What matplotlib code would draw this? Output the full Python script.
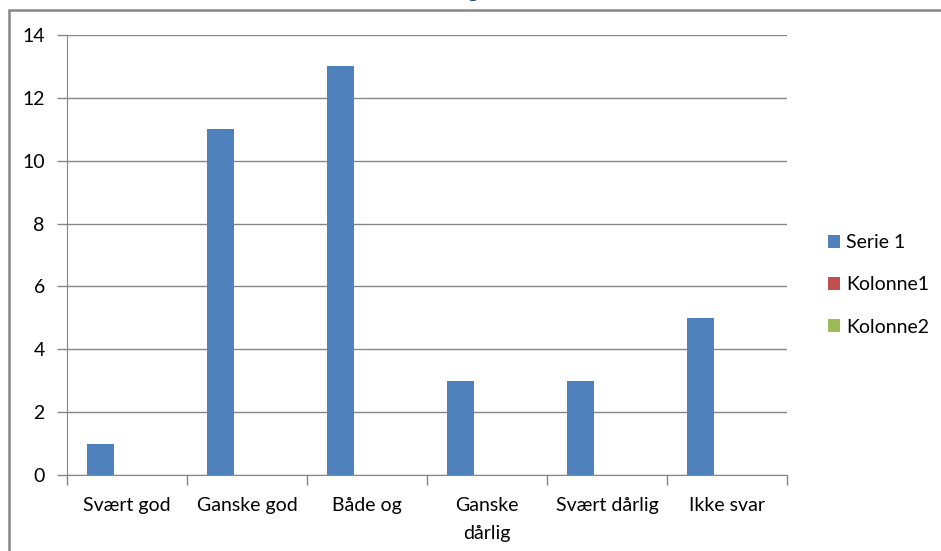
import numpy as np
import matplotlib
matplotlib.use("Agg")
import matplotlib.pyplot as plt
from matplotlib.patches import Rectangle

categories = ["Svært god", "Ganske god", "Både og", "Ganske\ndårlig", "Svært dårlig", "Ikke svar"]
serie1 = [1, 11, 13, 3, 3, 5]
kolonne1 = [0, 0, 0, 0, 0, 0]
kolonne2 = [0, 0, 0, 0, 0, 0]
series_names = ["Serie 1", "Kolonne1", "Kolonne2"]
colors = ["#4F81BD", "#C0504D", "#9BBB59"]
yticks = [0, 2, 4, 6, 8, 10, 12, 14]

plt.rcParams['font.family'] = ['Lato', 'DejaVu Sans']
fs = 14

W, H = 941, 551
fig = plt.figure(figsize=(W / 100, H / 100), dpi=100)
ax = fig.add_axes([67 / W, 1 - 475 / H, (787 - 67) / W, (475 - 35) / H])

# outer chart border (only top/left visible in crop)
fig.patches.append(Rectangle((9 / W, -0.1), 1.2, 1 - 10 / H + 0.1, transform=fig.transFigure,
                             fill=False, edgecolor="#868686", lw=1.8))
# cut-off title descender
fig.text(472 / W, 1 + 3 / H, "g", color="#1F497D", fontsize=17, ha="center", va="baseline")

x = np.arange(len(categories))
w = 1 / 4.5
for k, (vals, name, c) in enumerate(zip([serie1, kolonne1, kolonne2], series_names, colors)):
    ax.bar(x + (k - 1) * w, vals, width=w, color=c, label=name, zorder=3)

ax.set_xlim(-0.5, len(categories) - 0.5)
ax.set_ylim(0, 14)
ax.set_yticks(yticks)
ax.yaxis.grid(True, color="#868686", lw=1, zorder=0)
ax.tick_params(axis="y", length=7, width=1, color="#868686", labelsize=fs, pad=9)

ax.set_xticks(np.arange(-0.5, len(categories)), minor=False)
ax.set_xticklabels([])
ax.set_xticks(x, minor=True)
ax.set_xticklabels(categories, minor=True, fontsize=fs, linespacing=1.75, va="top")
ax.tick_params(axis="x", which="minor", length=0, pad=16)
ax.tick_params(axis="x", which="major", length=7, width=1, color="#868686")

for s in ["top", "right"]:
    ax.spines[s].set_visible(False)
for s in ["left", "bottom"]:
    ax.spines[s].set_color("#868686")

ax.legend(loc="center left", bbox_to_anchor=(820 / W, 1 - 285 / H), bbox_transform=fig.transFigure,
          frameon=False, fontsize=fs, handlelength=0.65, handleheight=0.65, handletextpad=0.3,
          labelspacing=1.3, borderaxespad=0)

fig.savefig("out.png", dpi=100)
